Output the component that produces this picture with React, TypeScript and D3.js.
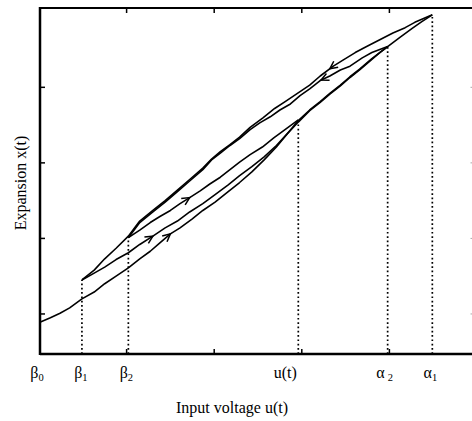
import React, { useEffect, useRef } from "react";
import * as d3 from "d3";

type Pt = [number, number];

// axis ticks (arbitrary units)
const xTicks = [1, 2, 3, 4];
const yTicks = [0, 1, 2, 3];

// reversal points of the input: value on u axis and expansion reached there
const markerNames = ["β", "β", "β", "u(t)", "α", "α"];
const markerSubs = ["0", "1", "2", "", "2", "1"];
const markerU = [0, 0.49, 1.02, 2.96, 3.98, 4.49];
const markerX = [-0.1, 0.45, 1.01, 2.56, 3.54, 3.96];

// initial ascending branch beta0 -> alpha1
const branchUp0: Pt[] = [
  [0.01, -0.11], [0.13, -0.05], [0.24, 0.01], [0.35, 0.08], [0.49, 0.2],
  [0.63, 0.29], [0.75, 0.4], [0.88, 0.5], [1.02, 0.61], [1.15, 0.73],
  [1.27, 0.83], [1.38, 0.94], [1.5, 1.06], [1.61, 1.14], [1.75, 1.26],
  [1.87, 1.37], [2.01, 1.48], [2.16, 1.62], [2.29, 1.74], [2.43, 1.88],
  [2.57, 2.04], [2.71, 2.21], [2.83, 2.38], [2.96, 2.56], [3.09, 2.7],
  [3.21, 2.81], [3.32, 2.92], [3.44, 3.03], [3.55, 3.14], [3.66, 3.24],
  [3.8, 3.38], [3.89, 3.46], [3.98, 3.54], [4.12, 3.66], [4.26, 3.78],
  [4.37, 3.87], [4.49, 3.96],
];

// descending alpha1 -> beta1
const branchDown1: Pt[] = [
  [4.49, 3.96], [4.39, 3.91], [4.29, 3.86], [4.18, 3.79], [4.04, 3.72],
  [3.89, 3.63], [3.74, 3.54], [3.61, 3.46], [3.47, 3.36], [3.36, 3.28],
  [3.21, 3.15], [3.09, 3.03], [2.95, 2.92], [2.81, 2.81], [2.69, 2.72],
  [2.56, 2.6], [2.41, 2.47], [2.29, 2.34], [2.18, 2.24], [2.07, 2.15],
  [1.97, 2.05], [1.87, 1.93], [1.72, 1.78], [1.58, 1.64], [1.44, 1.5],
  [1.3, 1.37], [1.15, 1.23], [1.02, 1.03], [0.88, 0.87], [0.75, 0.73],
  [0.63, 0.58], [0.49, 0.45],
];

// ascending beta1 -> alpha2
const branchUp1: Pt[] = [
  [0.49, 0.45], [0.63, 0.54], [0.75, 0.62], [0.88, 0.72], [1.02, 0.81],
  [1.15, 0.92], [1.3, 1.03], [1.44, 1.14], [1.58, 1.23], [1.72, 1.35],
  [1.87, 1.46], [2.01, 1.58], [2.16, 1.71], [2.29, 1.83], [2.43, 1.95],
  [2.57, 2.08], [2.71, 2.23], [2.83, 2.38], [2.96, 2.54], [3.09, 2.69],
  [3.21, 2.8], [3.32, 2.91], [3.44, 3.02], [3.55, 3.13], [3.66, 3.23],
  [3.8, 3.37], [3.89, 3.46], [3.98, 3.54],
];

// descending alpha2 -> beta2
const branchDown2: Pt[] = [
  [3.98, 3.54], [3.89, 3.5], [3.8, 3.46], [3.69, 3.39], [3.55, 3.28],
  [3.44, 3.23], [3.32, 3.15], [3.21, 3.09], [3.09, 2.98], [2.98, 2.89],
  [2.87, 2.78], [2.75, 2.7], [2.64, 2.61], [2.52, 2.53], [2.41, 2.44],
  [2.29, 2.32], [2.18, 2.23], [2.07, 2.13], [1.97, 2.04], [1.87, 1.91],
  [1.72, 1.76], [1.58, 1.62], [1.44, 1.48], [1.3, 1.35], [1.15, 1.21],
  [1.02, 1.01],
];

// ascending beta2 -> u(t)
const branchUp2: Pt[] = [
  [1.02, 1.01], [1.15, 1.11], [1.27, 1.21], [1.38, 1.29], [1.5, 1.37],
  [1.61, 1.46], [1.72, 1.54], [1.84, 1.63], [1.95, 1.72], [2.07, 1.81],
  [2.18, 1.91], [2.29, 2.01], [2.41, 2.11], [2.55, 2.21], [2.68, 2.33],
  [2.82, 2.45], [2.96, 2.57],
];

const branches = [branchUp0, branchDown1, branchUp1, branchDown2, branchUp2];
// arrow heads: branch index and u where they sit
const arrowBranch = [1, 3, 4, 2, 0];
const arrowU = [3.32, 3.22, 1.72, 1.3, 1.5];

const Hysteresis = () => {
  const svgRef = useRef<SVGSVGElement>(null);
  const svgWidth = 472;
  const svgHeight = 421;

  useEffect(() => {
    const svg = d3.select(svgRef.current);
    svg.selectAll("*").remove();

    const x = d3.scaleLinear().domain([0, 5]).range([39, 477]);
    const y = d3.scaleLinear().domain([-0.53, 4.05]).range([354, 8]);
    const left = x(0) + 1;
    const top = y(4.05);
    const bottom = y(-0.53);
    const font = "'Liberation Serif', 'Times New Roman', serif";

    // frame
    const g = svg.append("g").attr("fill", "none").attr("stroke", "#000");
    g.append("line").attr("x1", left).attr("x2", left).attr("y1", top - 1).attr("y2", bottom + 1).attr("stroke-width", 2.5);
    g.append("line").attr("x1", left).attr("x2", svgWidth).attr("y1", top).attr("y2", top).attr("stroke-width", 2.2);
    g.append("line").attr("x1", left).attr("x2", svgWidth).attr("y1", bottom).attr("y2", bottom).attr("stroke-width", 2.5);

    yTicks.forEach((v) => {
      g.append("line").attr("x1", left).attr("x2", left + 5).attr("y1", y(v)).attr("y2", y(v)).attr("stroke-width", 1.5);
      g.append("line").attr("x1", 470.5).attr("x2", 472).attr("y1", y(v)).attr("y2", y(v))
        .attr("stroke", "#aaa").attr("stroke-width", 1);
    });
    xTicks.forEach((v) => {
      g.append("line").attr("x1", x(v)).attr("x2", x(v)).attr("y1", top).attr("y2", top + 5).attr("stroke-width", 1.5);
      g.append("line").attr("x1", x(v)).attr("x2", x(v)).attr("y1", bottom).attr("y2", bottom - 5).attr("stroke-width", 1.5);
    });

    // dotted drop lines
    markerU.forEach((u, i) => {
      if (i === 0) return;
      g.append("line")
        .attr("x1", x(u)).attr("x2", x(u))
        .attr("y1", bottom).attr("y2", y(markerX[i]))
        .attr("stroke-width", 1.7)
        .attr("stroke-dasharray", "1.7 2.6");
    });

    // branches
    const line = d3.line<Pt>().x((d) => x(d[0])).y((d) => y(d[1]));
    branches.forEach((b) => {
      g.append("path").attr("d", line(b)).attr("stroke-width", 1.6).attr("stroke-linejoin", "round");
    });

    // arrow heads
    arrowBranch.forEach((bi, k) => {
      const b = branches[bi];
      const u = arrowU[k];
      let j = 0;
      for (let i = 0; i < b.length - 1; i++) {
        const lo = Math.min(b[i][0], b[i + 1][0]);
        const hi = Math.max(b[i][0], b[i + 1][0]);
        if (u >= lo && u <= hi) { j = i; break; }
      }
      const p0 = [x(b[j][0]), y(b[j][1])];
      const p1 = [x(b[j + 1][0]), y(b[j + 1][1])];
      const t = (u - b[j][0]) / (b[j + 1][0] - b[j][0]);
      const tip = [p0[0] + t * (p1[0] - p0[0]), p0[1] + t * (p1[1] - p0[1])];
      const ang = Math.atan2(p1[1] - p0[1], p1[0] - p0[0]);
      const len = 8.5;
      const spread = 0.45;
      const a1 = ang + Math.PI - spread;
      const a2 = ang + Math.PI + spread;
      g.append("path")
        .attr("d",
          `M${tip[0] + len * Math.cos(a1)},${tip[1] + len * Math.sin(a1)}L${tip[0]},${tip[1]}L${tip[0] + len * Math.cos(a2)},${tip[1] + len * Math.sin(a2)}`)
        .attr("stroke-width", 1.5);
    });

    // marker labels
    const dx = [-2, -1, -2, -13, -3, -2];
    markerNames.forEach((name, i) => {
      const t = svg.append("text")
        .attr("x", x(markerU[i]) + dx[i])
        .attr("y", 378)
        .attr("text-anchor", "middle")
        .attr("font-family", font)
        .attr("font-size", 16)
        .attr("fill", "#000")
        .text(name);
      if (markerSubs[i]) {
        t.append("tspan")
          .attr("font-size", 10.5)
          .attr("dx", name === "α" && markerSubs[i] === "2" ? 3 : 0)
          .attr("dy", 3)
          .text(markerSubs[i]);
      }
    });

    svg.append("text")
      .attr("x", 232).attr("y", 413)
      .attr("text-anchor", "middle")
      .attr("font-family", font).attr("font-size", 16)
      .text("Input voltage u(t)");

    svg.append("text")
      .attr("transform", "translate(26,183) rotate(-90)")
      .attr("text-anchor", "middle")
      .attr("font-family", font).attr("font-size", 16)
      .text("Expansion x(t)");
  }, []);

  return (
    <svg
      ref={svgRef}
      width={svgWidth}
      height={svgHeight}
      style={{ position: "absolute", left: 0, top: 0, background: "#fff" }}
    />
  );
};

export default function App() {
  return <Hysteresis />;
}
